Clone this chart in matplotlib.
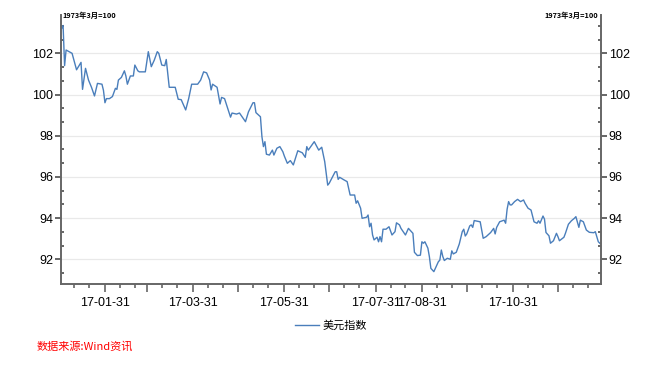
import matplotlib
matplotlib.use("Agg")
import matplotlib.pyplot as plt
import matplotlib.dates as mdates
from matplotlib.ticker import MultipleLocator, FixedLocator
import numpy as np
import pandas as pd

plt.rcParams['font.family'] = ['Liberation Sans', 'Noto Sans CJK SC', 'DejaVu Sans']

# day offsets from 2017-01-01 and index values
days = [1, 2, 3, 4, 8, 11, 14, 15, 17, 19, 21, 23, 25, 28, 29, 30, 31, 33, 35, 37,
        38, 39, 41, 43, 44, 45, 47, 49, 50, 52, 53, 57, 59, 61, 63, 65, 66, 68, 70, 71,
        73, 77, 79, 81, 84, 86, 88, 92, 94, 96, 98, 100, 101, 102, 105, 107, 108, 110, 114, 115,
        118, 120, 124, 126, 129, 130, 131, 134, 135, 136, 137, 138, 140, 142, 143, 145, 147, 149, 150, 152,
        154, 156, 159, 162, 164, 165, 166, 170, 173, 175, 177, 179, 180, 184, 185, 186, 187, 190, 192, 194,
        197, 198, 199, 201, 202, 205, 206, 207, 208, 209, 210, 212, 213, 214, 215, 216, 218, 220, 222, 224,
        225, 227, 228, 231, 233, 236, 237, 239, 241, 242, 243, 244, 246, 247, 248, 250, 251, 253, 254, 255,
        256, 257, 259, 261, 262, 263, 265, 267, 269, 270, 271, 272, 274, 275, 276, 277, 281, 282, 283, 285,
        288, 290, 291, 292, 294, 297, 298, 299, 300, 301, 302, 304, 306, 308, 310, 311, 313, 315, 317, 319,
        320, 321, 323, 324, 325, 327, 328, 330, 332, 333, 334, 337, 338, 340, 342, 344, 345, 347, 348, 350,
        352, 354, 357, 358, 360, 361]
dxy = [103.20, 103.35, 101.40, 102.16, 102.00, 101.20, 101.56, 100.25, 101.27, 100.70,
       100.35, 99.93, 100.54, 100.50, 100.20, 99.60, 99.80, 99.80, 99.90, 100.30,
       100.25, 100.70, 100.83, 101.15, 100.90, 100.50, 100.90, 100.90, 101.43, 101.15,
       101.10, 101.10, 102.08, 101.35, 101.67, 102.08, 102.00, 101.43, 101.40, 101.70,
       100.35, 100.35, 99.77, 99.75, 99.25, 99.80, 100.50, 100.50, 100.70, 101.10,
       101.05, 100.70, 100.22, 100.50, 100.35, 99.54, 99.86, 99.80, 98.90, 99.10,
       99.05, 99.10, 98.68, 99.16, 99.60, 99.60, 99.12, 98.92, 97.95, 97.47,
       97.71, 97.10, 97.06, 97.30, 97.06, 97.39, 97.47, 97.22, 97.01, 96.66,
       96.79, 96.58, 97.27, 97.17, 96.95, 97.47, 97.30, 97.71, 97.30, 97.44,
       96.74, 95.60, 95.69, 96.25, 96.25, 95.88, 95.98, 95.85, 95.77, 95.12,
       95.12, 94.72, 94.84, 94.48, 93.99, 94.04, 94.15, 93.58, 93.75, 93.18,
       92.94, 93.07, 92.85, 93.10, 92.85, 93.46, 93.46, 93.58, 93.18, 93.34,
       93.77, 93.67, 93.50, 93.18, 93.50, 93.26, 92.34, 92.18, 92.20, 92.85,
       92.78, 92.85, 92.54, 92.13, 91.56, 91.40, 91.56, 91.88, 91.96, 92.45,
       92.13, 91.94, 92.05, 92.00, 92.41, 92.26, 92.34, 92.74, 93.34, 93.46,
       93.13, 93.23, 93.62, 93.67, 93.55, 93.88, 93.82, 93.42, 93.02, 93.10,
       93.30, 93.50, 93.23, 93.55, 93.82, 93.90, 93.75, 94.43, 94.80, 94.64,
       94.64, 94.80, 94.91, 94.80, 94.88, 94.72, 94.48, 94.39, 93.82, 93.75,
       93.87, 93.75, 94.10, 93.95, 93.30, 93.14, 92.78, 92.90, 93.26, 93.10,
       92.90, 93.07, 93.26, 93.70, 93.87, 93.99, 94.07, 93.55, 93.90, 93.82,
       93.42, 93.31, 93.29, 93.34, 92.85, 92.78]

label_dates = ['2017-01-31', '2017-03-31', '2017-05-31', '2017-07-31', '2017-08-31', '2017-10-31']
y_ticks = [92, 94, 96, 98, 100, 102]

base = pd.Timestamp('2017-01-01')
dates = base + pd.to_timedelta(np.array(days, dtype=float), unit='D')

fig = plt.figure(figsize=(6.52, 3.69), dpi=100)
ax = fig.add_axes([61 / 652, 1 - 284 / 369, 540 / 652, 269 / 369])

ax.plot(dates, dxy, color='#4a7ebb', lw=1.0, label='美元指数')

ax.set_xlim(base + pd.Timedelta(days=0.6), base + pd.Timedelta(days=361.8))
ax.set_ylim(90.8, 103.86)

# y axis ticks
ax.yaxis.set_major_locator(FixedLocator(y_ticks))
ax.yaxis.set_minor_locator(MultipleLocator(2 / 3))
ax.grid(axis='y', which='major', color='#e9e9e9', lw=0.9)
ax.set_axisbelow(True)

# x axis ticks: month ends major, 10th/20th minor
month_ends = pd.date_range('2017-01-31', '2017-12-31', freq='ME')
ax.xaxis.set_major_locator(FixedLocator(mdates.date2num(month_ends)))
minor = [pd.Timestamp(2017, m, d) for m in range(1, 13) for d in (10, 20)]
ax.xaxis.set_minor_locator(FixedLocator(mdates.date2num(minor)))
lab_set = set(pd.to_datetime(label_dates))
ax.set_xticklabels([d.strftime('%y-%m-%d') if d in lab_set else '' for d in month_ends])

spc = '#666666'
for s in ['left', 'right', 'bottom']:
    ax.spines[s].set_color(spc)
    ax.spines[s].set_linewidth(1.4)
ax.spines['top'].set_visible(False)

ax.tick_params(axis='y', which='major', direction='out', length=4.5, width=1.4,
               color=spc, labelsize=9, pad=1, left=True, right=True,
               labelleft=True, labelright=True)
ax.tick_params(axis='y', which='minor', direction='in', length=2.5, width=1.4,
               color=spc, left=True, right=True)
ax.tick_params(axis='x', which='major', direction='out', length=6, width=1.2,
               color=spc, labelsize=9, pad=3)
ax.tick_params(axis='x', which='minor', direction='out', length=3, width=1.2, color=spc)

unit_font = ['Noto Sans CJK SC', 'DejaVu Sans']
ax.text(0.003, 1.0, '1973年3月=100', transform=ax.transAxes, fontsize=5.3,
        family=unit_font, ha='left', va='center', fontweight='bold')
ax.text(0.994, 1.0, '1973年3月=100', transform=ax.transAxes, fontsize=5.3,
        family=unit_font, ha='right', va='center', fontweight='bold')

leg = ax.legend(loc='upper center', bbox_to_anchor=(0.5, -0.097), frameon=False,
                prop={'family': unit_font, 'size': 8}, handlelength=2.2,
                handletextpad=0.3)

fig.text(37 / 652, 1 - 346 / 369, '数据来源:Wind资讯', color='#ff0000', fontsize=8,
         family=unit_font, style='italic', ha='left', va='center')

fig.savefig('out.png', dpi=100)
